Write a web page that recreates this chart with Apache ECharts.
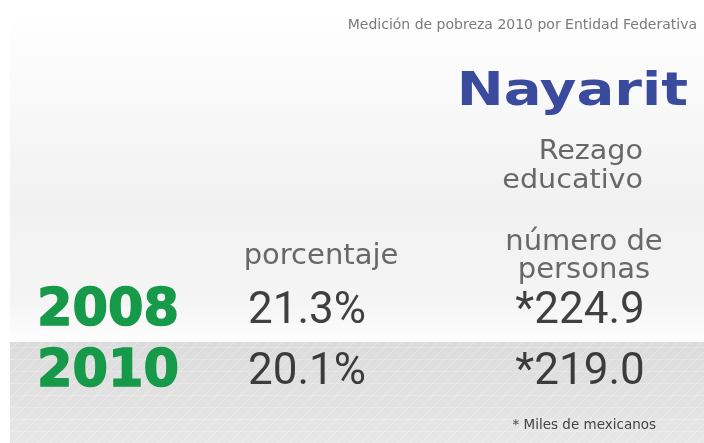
<!DOCTYPE html>
<html>
<head>
<meta charset="utf-8">
<script src="https://cdn.jsdelivr.net/npm/echarts@6/dist/echarts.min.js"></script>
<style>
  html, body { margin: 0; padding: 0; background: #fff; }
  #main { width: 704px; height: 443px; }
</style>
</head>
<body>
<div id="main"></div>
<script>
// datos
var years = ['2008', '2010'];
var columns = ['porcentaje', 'número de\npersonas'];
var porcentaje = [21.3, 20.1];
var personas = [224.9, 219.0]; // miles de mexicanos

var chart = echarts.init(document.getElementById('main'));

// trama diagonal para la franja inferior
var pat = document.createElement('canvas');
pat.width = 12; pat.height = 12;
var ctx = pat.getContext('2d');
ctx.strokeStyle = 'rgba(255,255,255,0.3)';
ctx.lineWidth = 1;
ctx.beginPath();
ctx.moveTo(0, 12); ctx.lineTo(12, 0);
ctx.stroke();
ctx.strokeStyle = 'rgba(255,255,255,0.18)';
ctx.beginPath();
ctx.moveTo(0, 11.5); ctx.lineTo(12, 11.5);
ctx.stroke();

var gray = '#686868';
var green = '#17994a';
var sans = 'DejaVu Sans';

var option = {
  backgroundColor: '#ffffff',
  graphic: [
    { type: 'rect', z: -10, shape: { x: 10, y: 10, width: 694, height: 433 },
      style: { fill: new echarts.graphic.LinearGradient(0, 0, 0, 1, [
        { offset: 0, color: '#ffffff' },
        { offset: 0.1, color: '#fcfcfc' },
        { offset: 0.45, color: '#f1f1f1' },
        { offset: 0.68, color: '#f5f5f5' },
        { offset: 0.76, color: '#fdfdfd' },
        { offset: 1, color: '#fdfdfd' }
      ]) } },
    { type: 'rect', z: -9, shape: { x: 10, y: 342, width: 694, height: 101 },
      style: { fill: new echarts.graphic.LinearGradient(0, 0, 0, 1, [
        { offset: 0, color: '#dcdcdc' },
        { offset: 0.5, color: '#e1e1e1' },
        { offset: 1, color: '#e7e7e7' }
      ]) } },
    { type: 'rect', z: -8, shape: { x: 10, y: 342, width: 694, height: 101 },
      style: { fill: { image: pat, repeat: 'repeat' } } },
    { type: 'text', x: 697, y: 25,
      style: { text: 'Medición de pobreza 2010 por Entidad Federativa', x: 0, y: 0,
        align: 'right', verticalAlign: 'middle', fill: '#7a7a7a', font: '14px "DejaVu Sans"' } },
    { type: 'text', x: 688, y: 93, scaleX: 1.22,
      style: { text: 'Nayarit', x: 0, y: 0, align: 'right', verticalAlign: 'middle',
        fill: '#3a4a9c', font: 'bold 46px "DejaVu Sans"' } },
    { type: 'text', x: 643, y: 152, scaleX: 1.1,
      style: { text: 'Rezago', x: 0, y: 0, align: 'right', verticalAlign: 'middle',
        fill: gray, font: '26px "DejaVu Sans"' } },
    { type: 'text', x: 643, y: 181, scaleX: 1.1,
      style: { text: 'educativo', x: 0, y: 0, align: 'right', verticalAlign: 'middle',
        fill: gray, font: '26px "DejaVu Sans"' } },
    { type: 'text', x: 656, y: 425,
      style: { text: '* Miles de mexicanos', x: 0, y: 0, align: 'right', verticalAlign: 'middle',
        fill: '#444444', font: '13.5px "DejaVu Sans"' } }
  ],
  grid: { left: 307, right: 124, top: 312, bottom: 70 },
  xAxis: {
    type: 'category',
    position: 'top',
    boundaryGap: false,
    data: columns,
    axisLine: { show: false },
    axisTick: { show: false },
    splitLine: { show: false },
    axisLabel: {
      interval: 0,
      margin: 56,
      verticalAlign: 'middle',
      lineHeight: 28,
      color: gray,
      fontSize: 29,
      fontFamily: sans,
      // las cabeceras van un poco a la derecha de los valores
      formatter: function (v, i) {
        return v.split('\n').map(function (l) { return '{c' + i + '|' + l + '}'; }).join('\n');
      },
      rich: {
        c0: { padding: [0, 0, 0, 28], color: gray, fontSize: 29, fontFamily: sans, lineHeight: 28 },
        c1: { padding: [0, 0, 0, 8], color: gray, fontSize: 29, fontFamily: sans, lineHeight: 28 }
      }
    }
  },
  yAxis: {
    type: 'category',
    inverse: true,
    boundaryGap: false,
    data: years,
    axisLine: { show: false },
    axisTick: { show: false },
    splitLine: { show: false },
    axisLabel: {
      interval: 0,
      showMinLabel: true,
      showMaxLabel: true,
      hideOverlap: false,
      margin: 128,
      color: green,
      fontSize: 51,
      fontWeight: 'bold',
      fontFamily: sans,
      textBorderColor: green,
      textBorderWidth: 1.5
    }
  },
  series: [
    {
      name: 'porcentaje',
      type: 'scatter',
      symbolSize: 1,
      itemStyle: { color: 'rgba(0,0,0,0)' },
      data: years.map(function (y, i) { return [columns[0], y, porcentaje[i]]; }),
      label: {
        show: true,
        position: 'inside',
        formatter: function (p) { return p.value[2].toFixed(1) + '%'; },
        color: '#111111',
        fontSize: 44,
        fontFamily: 'Roboto'
      },
      labelLayout: { hideOverlap: false }
    },
    {
      name: 'número de personas',
      type: 'scatter',
      symbolSize: 1,
      itemStyle: { color: 'rgba(0,0,0,0)' },
      data: years.map(function (y, i) { return [columns[1], y, personas[i]]; }),
      label: {
        show: true,
        position: 'inside',
        formatter: function (p) { return '*' + p.value[2].toFixed(1); },
        color: '#111111',
        fontSize: 44,
        fontFamily: 'Roboto'
      },
      labelLayout: { hideOverlap: false }
    }
  ]
};

option && chart.setOption(option);
window.addEventListener('resize', function () { chart.resize(); });
</script>
</body>
</html>
